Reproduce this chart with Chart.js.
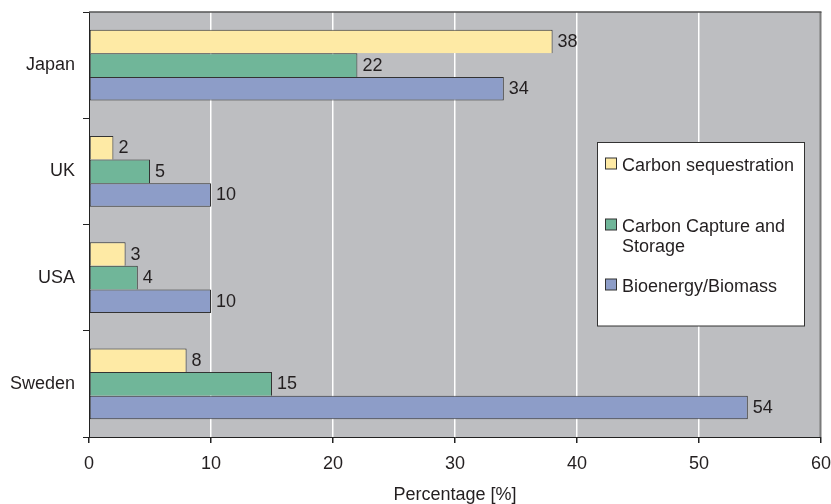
<!DOCTYPE html>
<html>
<head>
<meta charset="utf-8">
<script src="https://cdn.jsdelivr.net/npm/chart.js@4"></script>
<style>
  html, body { margin: 0; padding: 0; background: #ffffff; }
  #wrap { width: 831px; height: 504px; }
</style>
</head>
<body>
<div id="wrap"><canvas id="chart" width="831" height="504"></canvas></div>
<script>
// Countries (one band each, top to bottom)
const countries = ['Japan', 'UK', 'USA', 'Sweden'];

// Series names; a nested list is a name shown on several lines
const seriesNames = ['Carbon sequestration', ['Carbon Capture and', 'Storage'], 'Bioenergy/Biomass'];

// Percentages per country
const carbonSequestration = [38, 2, 3, 8];
const carbonCaptureStorage = [22, 5, 4, 15];
const bioenergyBiomass = [34, 10, 10, 54];

// Value axis ticks
const percentTicks = [0, 10, 20, 30, 40, 50, 60];

const FONT = '"Liberation Sans", Arial, Helvetica, sans-serif';
const TEXT = '#231f20';
const seriesColors = ['#feeaa5', '#70b699', '#8d9dc8'];

// Grey plot area plus the darker top and right frame lines
const plotFrame = {
  id: 'plotFrame',
  beforeDraw(chart) {
    const { ctx, chartArea: a } = chart;
    ctx.save();
    ctx.fillStyle = '#bdbec1';
    ctx.fillRect(a.left, a.top, a.right - a.left, a.bottom - a.top);
    ctx.restore();
  },
  afterDraw(chart) {
    const { ctx, chartArea: a } = chart;
    ctx.save();
    ctx.strokeStyle = '#7a7a7a';
    ctx.lineWidth = 2;
    ctx.beginPath();
    ctx.moveTo(a.right - 0.5, a.top);
    ctx.lineTo(a.right - 0.5, a.bottom);
    ctx.stroke();
    ctx.strokeStyle = '#555555';
    ctx.lineWidth = 1.5;
    ctx.beginPath();
    ctx.moveTo(a.left, a.top);
    ctx.lineTo(a.right + 0.5, a.top);
    ctx.stroke();
    ctx.restore();
  }
};

// Value written just past the end of every bar
const valueLabels = {
  id: 'valueLabels',
  afterDatasetsDraw(chart) {
    const { ctx } = chart;
    ctx.save();
    ctx.font = '18px ' + FONT;
    ctx.fillStyle = TEXT;
    ctx.textAlign = 'left';
    ctx.textBaseline = 'middle';
    chart.data.datasets.forEach((ds, i) => {
      chart.getDatasetMeta(i).data.forEach((bar, j) => {
        ctx.fillText(String(ds.data[j]), bar.x + 5, bar.y + 0.5);
      });
    });
    ctx.restore();
  }
};

// Boxed legend inside the plot area
const legendBox = {
  id: 'legendBox',
  afterDraw(chart) {
    const { ctx } = chart;
    const box = { x: 597.5, y: 142.5, w: 207, h: 183.5 };
    const baselines = [170.5, 231.5, 291.5];
    const lineGap = 20;
    ctx.save();
    ctx.fillStyle = '#ffffff';
    ctx.fillRect(box.x, box.y, box.w, box.h);
    ctx.strokeStyle = '#333333';
    ctx.lineWidth = 1;
    ctx.strokeRect(box.x, box.y, box.w, box.h);
    ctx.font = '18px ' + FONT;
    ctx.textAlign = 'left';
    ctx.textBaseline = 'alphabetic';
    chart.data.datasets.forEach((ds, i) => {
      const base = baselines[i];
      ctx.fillStyle = ds.backgroundColor;
      ctx.fillRect(605.5, base - 12.5, 11, 11);
      ctx.strokeStyle = '#333333';
      ctx.strokeRect(605.5, base - 12.5, 11, 11);
      ctx.fillStyle = TEXT;
      const lines = Array.isArray(seriesNames[i]) ? seriesNames[i] : [seriesNames[i]];
      lines.forEach((t, k) => ctx.fillText(t, 622, base + k * lineGap));
    });
    ctx.restore();
  }
};

const seriesData = [carbonSequestration, carbonCaptureStorage, bioenergyBiomass];

new Chart(document.getElementById('chart'), {
  type: 'bar',
  data: {
    labels: countries,
    datasets: seriesData.map((values, i) => ({
      label: Array.isArray(seriesNames[i]) ? seriesNames[i].join(' ') : seriesNames[i],
      data: values,
      backgroundColor: seriesColors[i],
      borderColor: '#333333',
      borderWidth: 1,
      borderSkipped: i === seriesData.length - 1 ? false : 'bottom',
      categoryPercentage: 0.665,
      barPercentage: 1.0
    }))
  },
  options: {
    indexAxis: 'y',
    responsive: false,
    animation: false,
    events: [],
    layout: { padding: { top: 12, right: 10, bottom: 0, left: 0 } },
    plugins: {
      legend: { display: false },
      tooltip: { enabled: false }
    },
    scales: {
      x: {
        type: 'linear',
        min: 0,
        max: 60,
        afterBuildTicks(scale) {
          scale.ticks = percentTicks.map(v => ({ value: v }));
        },
        ticks: {
          color: TEXT,
          font: { family: FONT, size: 18 },
          padding: 10,
          maxRotation: 0,
          autoSkip: false
        },
        grid: {
          color: ctx => (ctx.tick && ctx.tick.value === 0) ? 'rgba(0,0,0,0)' : '#ffffff',
          lineWidth: 1.5,
          tickColor: '#222222',
          tickLength: 6
        },
        border: { color: '#222222', width: 1 },
        title: {
          display: true,
          text: 'Percentage [%]',
          color: TEXT,
          font: { family: FONT, size: 18, lineHeight: 1 },
          padding: { top: 0, bottom: 0 }
        },
        afterFit(scale) {
          scale.height = 67;
          scale.paddingLeft = 0;
          scale.paddingRight = 0;
        }
      },
      y: {
        ticks: {
          color: TEXT,
          font: { family: FONT, size: 18 },
          padding: 8
        },
        grid: {
          drawOnChartArea: false,
          offset: true,
          tickColor: '#222222',
          tickLength: 6
        },
        border: { color: '#222222', width: 1 },
        afterFit(scale) {
          scale.width = 89;
          scale.paddingTop = 0;
          scale.paddingBottom = 0;
        }
      }
    }
  },
  plugins: [plotFrame, valueLabels, legendBox]
});
</script>
</body>
</html>
